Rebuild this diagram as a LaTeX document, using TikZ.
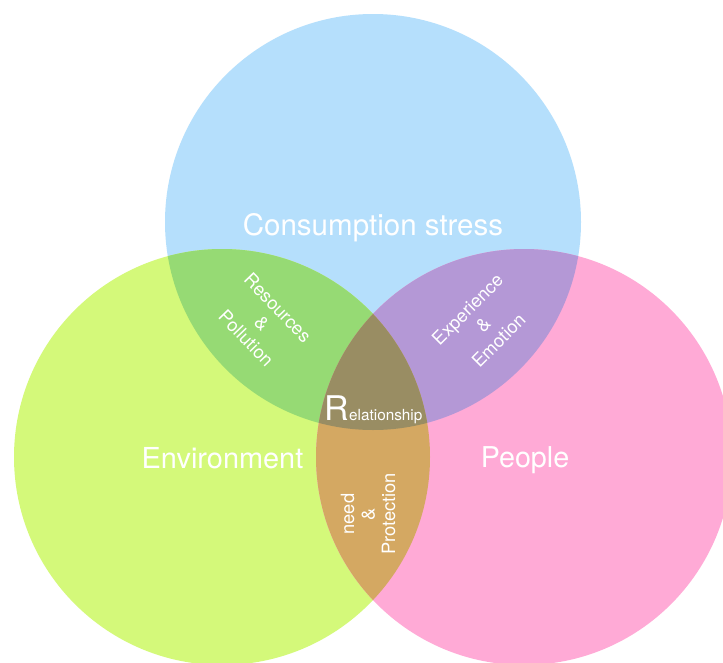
\documentclass[tikz,border=0pt]{standalone}
\usepackage{fontspec}
\setmainfont{TeX Gyre Heros}
% circle fills and the mixed tints of their overlaps
\definecolor{cblue}{HTML}{B5DFFC}
\definecolor{cgreen}{HTML}{D4F97A}
\definecolor{cpink}{HTML}{FFAAD6}
\definecolor{cbg}{HTML}{96DA74}
\definecolor{cbp}{HTML}{B498D6}
\definecolor{cgp}{HTML}{D4A862}
\definecolor{call}{HTML}{998D63}
\begin{document}
\begin{tikzpicture}[x=1pt,y=-1pt,
  biglabel/.style={text=white,font=\fontsize{29.5}{31}\selectfont,inner sep=0pt,anchor=base},
  smalllabel/.style={text=white,font=\fontsize{18.3}{22}\selectfont,align=center,inner sep=0pt}]
\useasboundingbox (0,0) rectangle (723,662);
\clip (0,0) rectangle (723,662);
\fill[white] (0,0) rectangle (723,662);

\coordinate (ct) at (373,222);
\coordinate (cl) at (222,457);
\coordinate (cr) at (524,457);

% the three sets
\fill[cblue]  (ct) circle[radius=208];
\fill[cgreen] (cl) circle[radius=208];
\fill[cpink]  (cr) circle[radius=208];

% pairwise overlaps
\begin{scope}
  \clip (ct) circle[radius=208];
  \fill[cbg] (cl) circle[radius=208];
\end{scope}
\begin{scope}
  \clip (ct) circle[radius=208];
  \fill[cbp] (cr) circle[radius=208];
\end{scope}
\begin{scope}
  \clip (cl) circle[radius=208];
  \fill[cgp] (cr) circle[radius=208];
\end{scope}
% common core
\begin{scope}
  \clip (ct) circle[radius=208];
  \clip (cl) circle[radius=208];
  \fill[call] (cr) circle[radius=208];
\end{scope}

% set names
\node[biglabel] (consumption) at (373,235) {Consumption stress};
\node[biglabel,font=\fontsize{28.9}{31}\selectfont] (environment) at (222.5,468) {Environment};
\node[biglabel,font=\fontsize{28.7}{31}\selectfont] (people) at (525,467) {People};

% overlap labels
\node[smalllabel,rotate=-46] (resources) at (262,323) {Resources\\\&\\Pollution};
\node[smalllabel,rotate=45] (experience) at (483,325) {Experience\\\&\\Emotion};
\node[smalllabel,rotate=90,font=\fontsize{18.3}{20.5}\selectfont] (need) at (368,514) {need\\\&\\Protection};
\node[text=white,inner sep=0pt,anchor=base] (relationship) at (373.5,420)
  {{\fontsize{34}{34}\selectfont R}{\fontsize{15.3}{16}\selectfont elationship}};
\end{tikzpicture}
\end{document}
